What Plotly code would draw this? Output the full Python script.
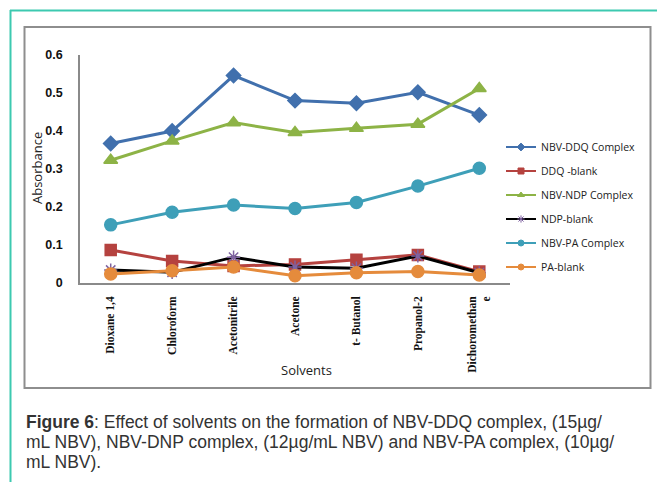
import plotly.graph_objects as go

solvents = ["Dioxane 1,4", "Chloroform", "Acetonitrile", "Acetone", "t- Butanol", "Propanol-2", "Dichoromethan<br>e"]
ddq_complex = [0.367, 0.400, 0.546, 0.480, 0.473, 0.502, 0.442]
ddq_blank = [0.087, 0.058, 0.045, 0.049, 0.061, 0.074, 0.030]
ndp_complex = [0.323, 0.374, 0.422, 0.396, 0.407, 0.418, 0.512]
ndp_blank = [0.034, 0.028, 0.068, 0.042, 0.039, 0.071, 0.027]
pa_complex = [0.153, 0.186, 0.205, 0.196, 0.212, 0.255, 0.302]
pa_blank = [0.024, 0.032, 0.042, 0.019, 0.027, 0.030, 0.021]
y_ticks = [0, 0.1, 0.2, 0.3, 0.4, 0.5, 0.6]
y_tick_text = ["0", "0.1", "0.2", "0.3", "0.4", "0.5", "0.6"]

# page body has an 8px margin; work in reference-pixel coordinates
OFF = 8
W, H = 665 - OFF, 482 - OFF
L, R, T, B = 80, 510, 55, 283

def px(x):
    return (x - L) / (R - L)

def py(y):
    return (B - y) / (B - T)

series = [
    ("NBV-DDQ Complex", ddq_complex, "#4170ad", "#4170ad", "diamond", 11),
    ("DDQ -blank", ddq_blank, "#b5423f", "#b5423f", "square", 11),
    ("NBV-NDP Complex", ndp_complex, "#8db346", "#8db346", "triangle-up", 12),
    ("NDP-blank", ndp_blank, "#000000", "#7f62a1", "asterisk-open", 11),
    ("NBV-PA Complex", pa_complex, "#3e9fb8", "#3e9fb8", "circle", 12),
    ("PA-blank", pa_blank, "#e58b3c", "#e58b3c", "circle", 12),
]

fig = go.Figure()
for i, (name, vals, lc, mc, sym, sz) in enumerate(series):
    fig.add_trace(go.Scatter(
        x=solvents, y=vals, name=name, mode="lines+markers",
        line=dict(color=lc, width=3),
        marker=dict(symbol=sym, size=sz, color=mc, line=dict(color=mc, width=1.5)),
        showlegend=False,
    ))
for i, (name, vals, lc, mc, sym, sz) in enumerate(series):
    fig.add_trace(go.Scatter(
        x=[None], y=[None], name=name, mode="lines+markers",
        line=dict(color=lc, width=2),
        marker=dict(symbol=sym, size=6, color=mc, line=dict(color=mc, width=1)),
        legendgroup=f"g{i}", showlegend=True,
    ))

fig.update_layout(
    width=W, height=H,
    margin=dict(l=L - OFF, r=665 - R, t=T - OFF, b=482 - B, pad=0),
    paper_bgcolor="white", plot_bgcolor="white",
    showlegend=True,
    legend=dict(x=px(501), y=py(132.5), xanchor="left", yanchor="top",
                font=dict(family="Open Sans, Liberation Sans", size=10.5, color="#222"),
                tracegroupgap=5, itemwidth=30, bgcolor="rgba(0,0,0,0)"),
    xaxis=dict(type="category", range=[-0.5, 6.5], showline=True, linecolor="#8a8a8a",
               linewidth=1.5, ticks="", showgrid=False, tickangle=-90,
               tickvals=solvents, ticktext=[f"<b>{s}</b>" for s in solvents],
               ticklabelstandoff=7,
               tickfont=dict(family="Liberation Serif", size=11.5, color="#111")),
    yaxis=dict(range=[0, 0.6], tickvals=y_ticks, ticktext=[f"<b>{t}</b>" for t in y_tick_text],
               showline=True, linecolor="#8a8a8a", linewidth=1.5, ticks="", showgrid=False,
               zeroline=False, ticklabelstandoff=13,
               tickfont=dict(family="Liberation Sans", size=12.5, color="#111")),
)

fig.add_annotation(text="Absorbance", xref="paper", yref="paper", x=px(37), y=py(168),
                   xanchor="center", yanchor="middle", textangle=-90, showarrow=False,
                   font=dict(family="Open Sans, Liberation Sans", size=13, color="#222"))
fig.add_annotation(text="Solvents", xref="paper", yref="paper", x=px(306), y=py(370),
                   xanchor="center", yanchor="middle", showarrow=False,
                   font=dict(family="Open Sans, Liberation Sans", size=13, color="#222"))

# frames
teal = "#3cc9b0"
fig.add_shape(type="line", xref="paper", yref="paper", x0=px(10), x1=px(665), y0=py(10.5), y1=py(10.5),
              line=dict(color=teal, width=2))
fig.add_shape(type="line", xref="paper", yref="paper", x0=px(10.5), x1=px(10.5), y0=py(10), y1=py(482),
              line=dict(color=teal, width=2))
fig.add_shape(type="rect", xref="paper", yref="paper", x0=px(24.5), x1=px(650.5), y0=py(27), y1=py(388),
              line=dict(color="#8e8e8e", width=2))

cap_lines = [
    "<b>Figure 6</b>: Effect of solvents on the formation of NBV-DDQ complex, (15µg/",
    "mL NBV), NBV-DNP complex, (12µg/mL NBV) and NBV-PA complex, (10µg/",
    "mL NBV).",
]
cap_y = [421.5, 441.5, 461.5]
for line, yy in zip(cap_lines, cap_y):
    fig.add_annotation(text=line, xref="paper", yref="paper", x=px(24), y=py(yy),
                       xanchor="left", yanchor="middle", align="left", showarrow=False,
                       font=dict(family="Liberation Sans", size=17.5, color="#333"))

fig.write_html("out.html")
